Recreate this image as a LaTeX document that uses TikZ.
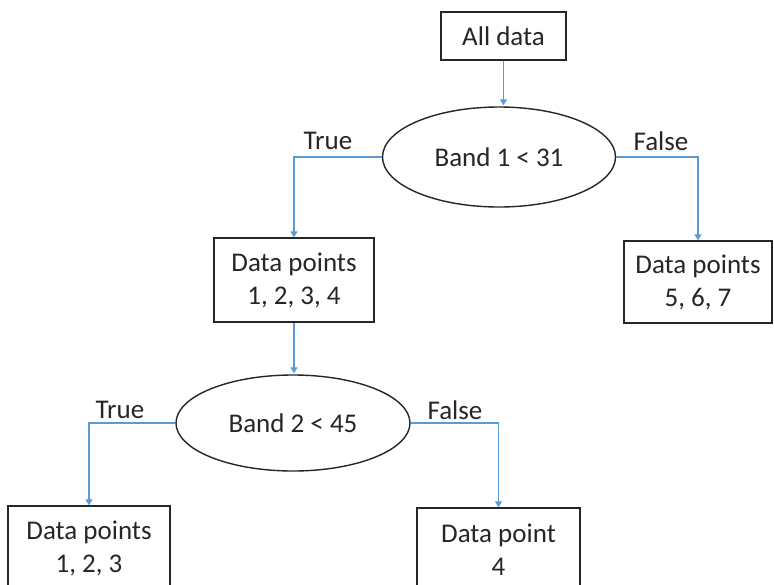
\documentclass[tikz,border=0pt]{standalone}
\usepackage{fontspec}
\setmainfont{Carlito}
\usetikzlibrary{shapes.geometric,arrows.meta}
\definecolor{conn}{HTML}{5B9BD5}
\definecolor{edge}{HTML}{262626}
\begin{document}
\begin{tikzpicture}[x=1pt,y=-1pt,
  every node/.style={font=\fontsize{27}{33}\selectfont, text=edge},
  boxnode/.style={draw=edge, line width=1.4pt, rectangle, inner sep=0pt, align=center},
  ellnode/.style={draw=edge, line width=1.4pt, ellipse, inner sep=0pt},
  link/.style={draw=conn, line width=1.3pt, -{Triangle[width=7pt,length=6pt]}},
  lbl/.style={inner sep=0pt}]
\useasboundingbox (0,0) rectangle (774,584);
\clip (0,0) rectangle (774,584);
\fill[white] (0,0) rectangle (774,584);
\node[boxnode, minimum width=125pt, minimum height=48pt] (all) at (503.5,36) {All data};
\node[ellnode, minimum width=233pt, minimum height=100pt] (e1) at (499,157) {Band 1 < 31};
\node[boxnode, minimum width=160pt, minimum height=84pt] (d1234) at (294,280) {Data points\\1, 2, 3, 4};
\node[boxnode, minimum width=148pt, minimum height=82pt] (d567) at (698,282) {Data points\\5, 6, 7};
\node[ellnode, minimum width=234pt, minimum height=96pt] (e2) at (293,423) {Band 2 < 45};
\node[boxnode, minimum width=162pt, minimum height=84pt] (d123) at (89,548) {Data points\\1, 2, 3};
\node[boxnode, minimum width=163pt, minimum height=84pt] (d4) at (498.5,550) {Data point\\4};
\coordinate (a1) at ([yshift=1pt]all.south |- e1.north);
\coordinate (a2) at ([yshift=1pt]d1234.south |- e2.north);
\draw[link] (all.south) -- (a1);
\draw[link] (e1.west) -| (d1234.north);
\draw[link] (e1.east) -| (d567.north);
\draw[link] (d1234.south) -- (a2);
\draw[link] (e2.west) -| (d123.north);
\draw[link] (e2.east) -| (d4.north);
\node[lbl] (t1) at (328,141) {True};
\node[lbl] (f1) at (661,141) {False};
\node[lbl] (t2) at (120,410) {True};
\node[lbl] (f2) at (455,410) {False};
\end{tikzpicture}
\end{document}
